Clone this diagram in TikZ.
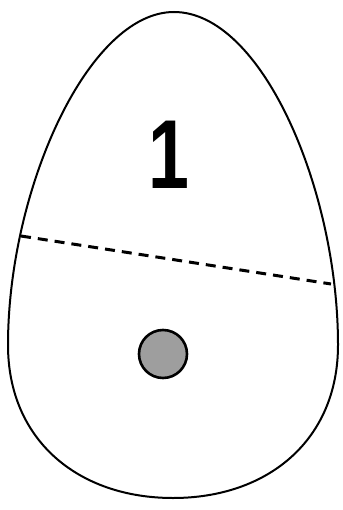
\documentclass[tikz,border=0pt]{standalone}
\usepackage{fontspec}
\setsansfont{Liberation Sans}
\tikzset{
	eggline/.style={draw=black, line width=2pt},
	cutline/.style={draw=black, line width=3pt, dash pattern=on 10pt off 7pt},
	dotmark/.style={circle, draw=black, line width=2.6pt, fill=black!38, minimum size=48pt, inner sep=0pt},
	numlabel/.style={font=\sffamily\bfseries\fontsize{98}{98}\selectfont, inner sep=0pt, xscale=0.75}
}
\begin{document}
\begin{tikzpicture}[x=1pt, y=-1pt]
			\useasboundingbox (0,0) rectangle (342,510);
			% egg outline
			\draw[eggline] (173,498) .. controls (78,498) and (8,440) .. (8,345)
				.. controls (8,190) and (88,12) .. (174,12)
				.. controls (262,12) and (338,190) .. (338,345)
				.. controls (338,440) and (268,498) .. (173,498);
			\node[numlabel] (num) at (169,155) {1};
			\coordinate (cutl) at (21,236);
			\coordinate (cutr) at (331,284);
			\draw[cutline] (cutl) -- (cutr);
			\node[dotmark] (dot) at (163,354) {};
		\end{tikzpicture}
\end{document}
